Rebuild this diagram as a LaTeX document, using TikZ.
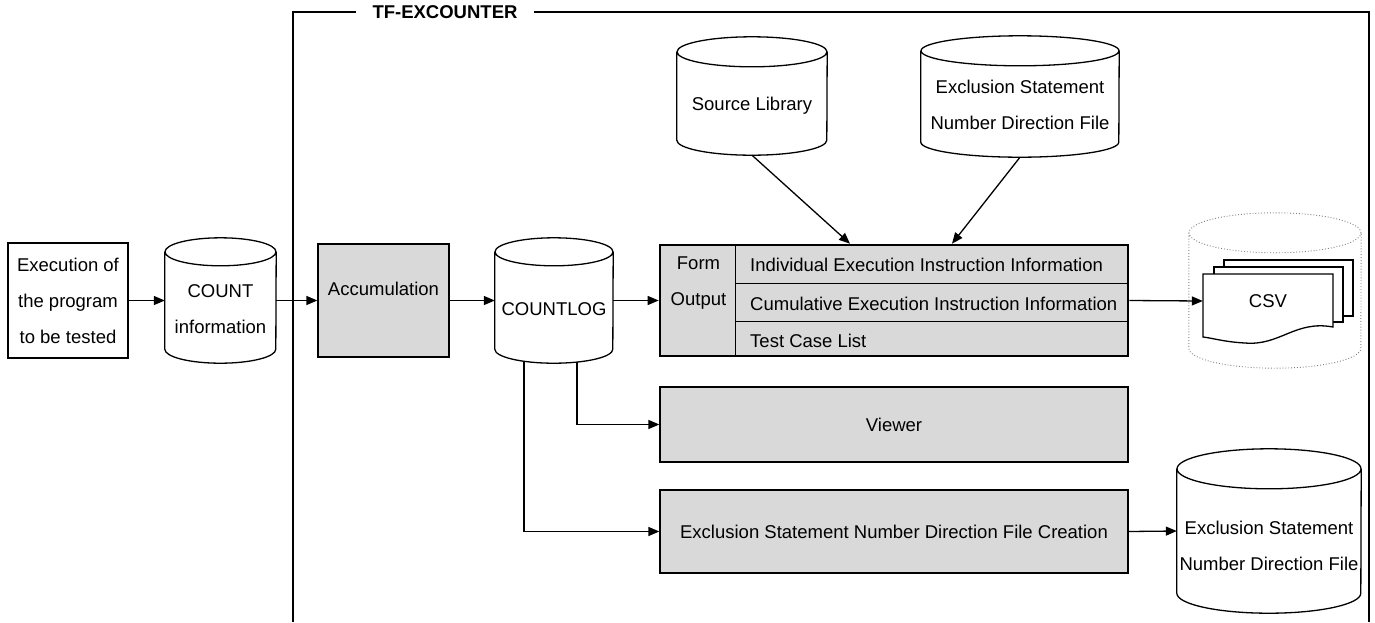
\documentclass[tikz,border=0pt]{standalone}
\usepackage{fontspec}
\setmainfont{Liberation Sans}
\usetikzlibrary{arrows.meta}
\definecolor{boxgray}{RGB}{217,217,217}
\newcommand{\dgfont}{\fontsize{18.5}{36}\selectfont}
% cylinder outline round a named node: #2 node, #3 x radius, #4 y radius
\newcommand{\datastore}[4][]{%
  \draw[#1] ([yshift=-#4pt]#2.north west) -- ([yshift=#4pt]#2.south west)
    arc[start angle=180, end angle=360, x radius=#3pt, y radius=#4pt]
    -- ([yshift=-#4pt]#2.north east)
    ([yshift=-#4pt]#2.north) ellipse[x radius=#3pt, y radius=#4pt];}
\tikzset{
  every node/.style={font=\dgfont, align=center, inner sep=0pt},
  outline/.style={line width=1.3pt},
  plain/.style={draw, line width=1.3pt},
  block/.style={draw, line width=1.3pt, fill=boxgray},
  flow/.style={line width=1.3pt, -{Triangle[length=11pt,width=9pt]}},
}
\begin{document}
\begin{tikzpicture}[x=1pt, y=-1pt]
  \useasboundingbox (0,0) rectangle (1375,622);

  % system frame
  \draw[outline] (293,622) -- (293,12) -- (1369,12) -- (1369,622);
  \node[font=\dgfont\bfseries, fill=white, inner xsep=17pt, inner ysep=3pt] (sysname) at (445,12) {TF-EXCOUNTER};

  \node[plain, minimum width=120pt, minimum height=115pt] (exec) at (68,300.5) {Execution of\\the program\\to be tested};

  \node[minimum width=111pt, minimum height=125pt] (count) at (220.5,300.5) {};
  \datastore[outline]{count}{55.5}{14}
  \node (count-txt) at (220.5,309.5) {COUNT\\information};

  \node[block, minimum width=131pt, minimum height=113pt] (accum) at (383.5,300.5) {};
  \node (accum-txt) at (383.5,289) {Accumulation};

  \node[minimum width=118pt, minimum height=125pt] (countlog) at (554,300.5) {};
  \datastore[outline]{countlog}{59}{14}
  \node (countlog-txt) at (554,309) {COUNTLOG};

  \node[minimum width=150pt, minimum height=118pt] (srclib) at (752,96) {};
  \datastore[outline]{srclib}{75}{15}
  \node (srclib-txt) at (752,106) {Source Library};

  \node[minimum width=198pt, minimum height=121pt] (exclin) at (1020,96.5) {};
  \datastore[outline]{exclin}{99}{15}
  \node (exclin-txt) at (1020,104.5) {Exclusion Statement\\Number Direction File};

  % form output table
  \node[block, line width=2.6pt, minimum width=468pt, minimum height=111pt] (form) at (894,300.5) {};
  \draw[outline] ([xshift=77pt]form.north west) -- ([xshift=77pt]form.south west);
  \draw[outline] ([xshift=77pt,yshift=-40pt]form.north west) -- ([yshift=-40pt]form.north east);
  \draw[outline] ([xshift=77pt,yshift=-78pt]form.north west) -- ([yshift=-78pt]form.north east);
  \node (form-txt) at (698.5,283.5) {Form\\Output};
  \node[anchor=west] (indiv) at (750,265) {Individual Execution Instruction Information};
  \node[anchor=west] (cumul) at (750,304) {Cumulative Execution Instruction Information};
  \node[anchor=west] (tcl) at (750,341) {Test Case List};

  \node[block, minimum width=468pt, minimum height=75pt] (viewer) at (894,424.5) {Viewer};
  \node[block, minimum width=468pt, minimum height=83pt] (exclmake) at (894,531.5) {Exclusion Statement Number Direction File Creation};

  \node[minimum width=184pt, minimum height=164pt] (exclout) at (1269,531) {};
  \datastore[outline]{exclout}{92}{20}
  \node (exclout-txt) at (1269,546) {Exclusion Statement\\Number Direction File};

  % csv output
  \node[minimum width=172pt, minimum height=155pt] (csvstore) at (1275,290.5) {};
  \datastore[dotted, draw=gray, line width=0.9pt]{csvstore}{86}{20}
  \draw[outline, fill=white] (1224,260) rectangle (1353,316);
  \draw[outline, fill=white] (1214,267) rectangle (1343,322);
  \draw[outline, fill=white] (1203,274) -- (1333,274) -- (1333,327)
    .. controls (1295,320) and (1280,346) .. (1245,343)
    .. controls (1225,342) and (1212,338) .. (1203,337) -- cycle;
  \node[minimum width=130pt, minimum height=54pt] (csv) at (1268,301) {CSV};

  \draw[flow] (exec.east) -- (count.west);
  \draw[flow] (count.east) -- (accum.west);
  \draw[flow] (accum.east) -- (countlog.west);
  \draw[flow] (countlog.east) -- (form.west);
  \draw[flow] (form.east) -- (csv.west);
  \draw[flow] (srclib.south) -- ([xshift=-44pt]form.north);
  \draw[flow] (exclin.south) -- ([xshift=58pt]form.north);
  \draw[flow] ([xshift=23pt,yshift=1pt]countlog.south) |- (viewer.west);
  \draw[flow] ([xshift=-30pt,yshift=2pt]countlog.south) |- (exclmake.west);
  \draw[flow] (exclmake.east) -- (exclout.west);
\end{tikzpicture}
\end{document}
